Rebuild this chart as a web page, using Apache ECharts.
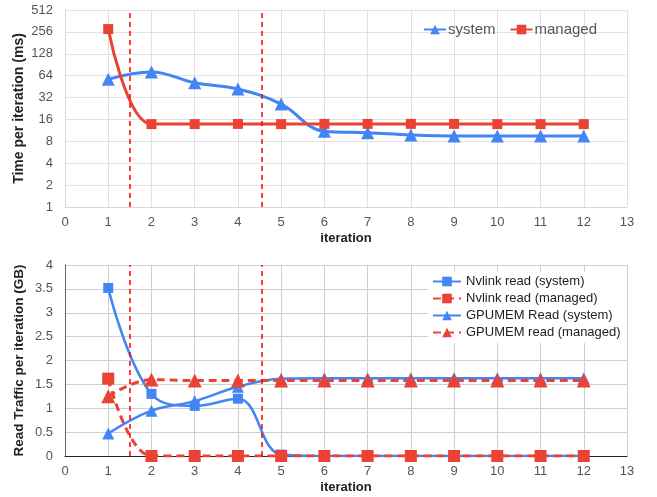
<!DOCTYPE html>
<html>
<head>
<meta charset="utf-8">
<script src="https://cdn.jsdelivr.net/npm/echarts@6/dist/echarts.min.js"></script>
<style>
  html, body { margin: 0; padding: 0; background: #fff; }
  #chart { width: 657px; height: 497px; }
</style>
</head>
<body>
<div id="chart"></div>
<script>
// iteration numbers shared by both panels
var iterations = [1, 2, 3, 4, 5, 6, 7, 8, 9, 10, 11, 12];

// top panel: time per iteration (ms)
var timeSystem = [57, 72, 51, 42, 26, 11, 10.5, 9.8, 9.5, 9.5, 9.5, 9.5];
var timeManaged = [280, 13.8, 13.8, 13.9, 13.8, 13.9, 13.9, 13.9, 13.9, 13.8, 13.8, 13.8];

// bottom panel: read traffic per iteration (GB)
var nvlinkSystem = [3.52, 1.3, 1.05, 1.2, 0.03, 0, 0, 0, 0, 0, 0, 0];
var nvlinkManaged = [1.62, 0, 0, 0, 0, 0, 0, 0, 0, 0, 0, 0];
var gpumemSystem = [0.47, 0.95, 1.15, 1.45, 1.62, 1.63, 1.63, 1.63, 1.63, 1.63, 1.63, 1.63];
var gpumemManaged = [1.25, 1.6, 1.58, 1.58, 1.58, 1.58, 1.58, 1.58, 1.58, 1.58, 1.58, 1.58];

// phase boundaries (dashed red verticals)
var dividers = [1.5, 4.55];

var BLUE = "#4285f4";
var RED = "#ea4335";
var FONT = "Liberation Sans, Arial, sans-serif";

function pairs(vals) {
  return iterations.map(function (x, i) { return [x, vals[i]]; });
}

function dividerLines() {
  return {
    silent: true,
    symbol: ["none", "none"],
    label: { show: false },
    lineStyle: { color: "#ff0000", type: [5, 4], width: 1.5 },
    data: dividers.map(function (d) { return { xAxis: d }; })
  };
}

function xAxisFor(gridIndex, lineColor) {
  return {
    type: "value",
    gridIndex: gridIndex,
    min: 0,
    max: 13,
    interval: 1,
    name: "iteration",
    nameLocation: "middle",
    nameGap: 25,
    nameMoveOverlap: false,
    nameTextStyle: { fontFamily: FONT, fontWeight: "bold", fontSize: 13, color: "#222" },
    axisLine: { show: true, lineStyle: { color: lineColor, width: 1 } },
    axisTick: { show: false },
    axisLabel: { fontFamily: FONT, fontSize: 13, color: "#555", margin: 9 },
    splitLine: { show: true, lineStyle: { color: gridIndex === 0 ? "#e2e2e2" : "#cfcfcf", width: 1 } }
  };
}

var myChart = echarts.init(document.getElementById("chart"));
var option = {
  animation: false,
  backgroundColor: "#fff",
  textStyle: { fontFamily: FONT },
  grid: [
    { left: 65, right: 30, top: 10, height: 197 },
    { left: 65, right: 30, top: 265, height: 191 }
  ],
  legend: [
    {
      data: ["system", "managed"],
      left: 418,
      top: 17,
      itemWidth: 22,
      itemHeight: 12,
      itemGap: 14,
      textStyle: { fontFamily: FONT, fontSize: 15, color: "#555", padding: [0, 0, 0, -3] }
    },
    {
      data: ["Nvlink read (system)", "Nvlink read (managed)", "GPUMEM Read (system)", "GPUMEM read (managed)"],
      orient: "vertical",
      left: 428,
      top: 272,
      itemWidth: 28,
      itemHeight: 12,
      itemGap: 4,
      padding: [3, 6, 4, 4],
      backgroundColor: "#fff",
      textStyle: { fontFamily: FONT, fontSize: 13, color: "#222" }
    }
  ],
  xAxis: [xAxisFor(0, "#d6d6d6"), xAxisFor(1, "#222")],
  yAxis: [
    {
      type: "log",
      gridIndex: 0,
      logBase: 2,
      min: 1,
      max: 512,
      interval: 1,
      splitNumber: 9,
      name: "Time per iteration (ms)",
      nameLocation: "middle",
      nameGap: 39,
      nameMoveOverlap: false,
      nameTextStyle: { fontFamily: FONT, fontWeight: "bold", fontSize: 14, color: "#222" },
      axisLine: { show: true, lineStyle: { color: "#d6d6d6" } },
      axisTick: { show: false },
      axisLabel: { fontFamily: FONT, fontSize: 13, color: "#555", margin: 12 },
      splitLine: { show: true, lineStyle: { color: "#e2e2e2" } }
    },
    {
      type: "value",
      gridIndex: 1,
      min: 0,
      max: 4,
      interval: 0.5,
      name: "Read Traffic per iteration (GB)",
      nameLocation: "middle",
      nameGap: 39,
      nameMoveOverlap: false,
      nameTextStyle: { fontFamily: FONT, fontWeight: "bold", fontSize: 13.5, color: "#222" },
      axisLine: { show: true, lineStyle: { color: "#666" } },
      axisTick: { show: false },
      axisLabel: { fontFamily: FONT, fontSize: 13, color: "#555", margin: 12 },
      splitLine: { show: true, lineStyle: { color: "#cfcfcf" } }
    }
  ],
  series: [
    {
      name: "system",
      type: "line",
      xAxisIndex: 0,
      yAxisIndex: 0,
      data: pairs(timeSystem),
      smooth: 0.4,
      symbol: "triangle",
      symbolSize: 13,
      itemStyle: { color: BLUE },
      lineStyle: { color: BLUE, width: 3 },
      markLine: dividerLines()
    },
    {
      name: "managed",
      type: "line",
      xAxisIndex: 0,
      yAxisIndex: 0,
      data: pairs(timeManaged),
      smooth: 0.4,
      symbol: "rect",
      symbolSize: 10,
      itemStyle: { color: RED },
      lineStyle: { color: RED, width: 3 }
    },
    {
      name: "Nvlink read (system)",
      type: "line",
      xAxisIndex: 1,
      yAxisIndex: 1,
      data: pairs(nvlinkSystem),
      smooth: 0.4,
      symbol: "rect",
      symbolSize: 10,
      itemStyle: { color: BLUE },
      lineStyle: { color: BLUE, width: 2.5 },
      markLine: dividerLines()
    },
    {
      name: "Nvlink read (managed)",
      type: "line",
      xAxisIndex: 1,
      yAxisIndex: 1,
      data: pairs(nvlinkManaged),
      smooth: 0.4,
      symbol: "rect",
      symbolSize: 12,
      itemStyle: { color: RED },
      lineStyle: { color: RED, width: 3, type: [8, 5] }
    },
    {
      name: "GPUMEM Read (system)",
      type: "line",
      xAxisIndex: 1,
      yAxisIndex: 1,
      data: pairs(gpumemSystem),
      smooth: 0.4,
      symbol: "triangle",
      symbolSize: 12,
      itemStyle: { color: BLUE },
      lineStyle: { color: BLUE, width: 2.5 }
    },
    {
      name: "GPUMEM read (managed)",
      type: "line",
      xAxisIndex: 1,
      yAxisIndex: 1,
      data: pairs(gpumemManaged),
      smooth: 0.4,
      symbol: "triangle",
      symbolSize: 14,
      itemStyle: { color: RED },
      lineStyle: { color: RED, width: 3, type: [8, 5] }
    }
  ]
};

option && myChart.setOption(option);
</script>
</body>
</html>
